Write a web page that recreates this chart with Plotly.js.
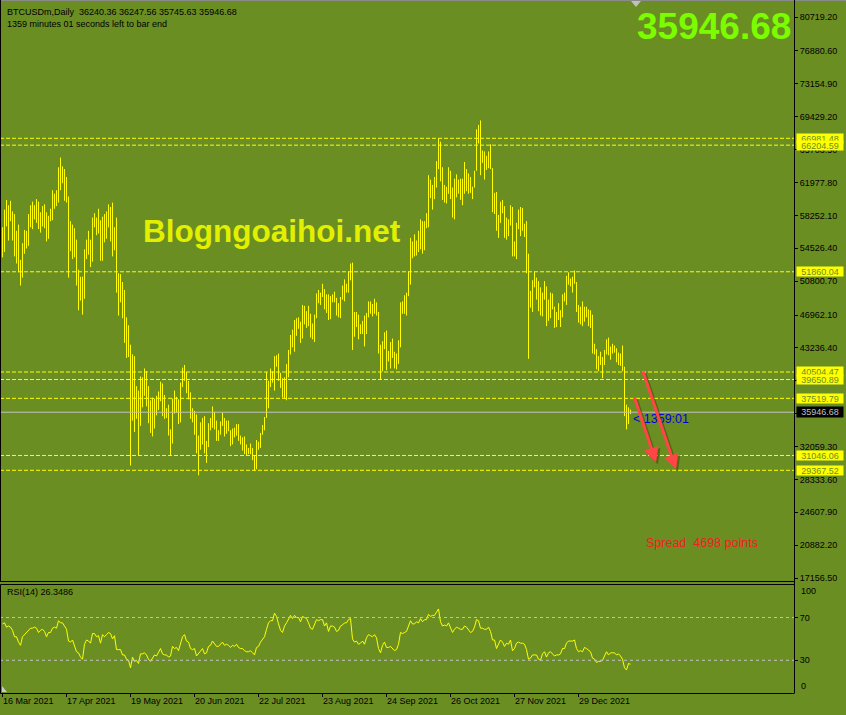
<!DOCTYPE html>
<html><head><meta charset="utf-8">
<script src="https://cdn.plot.ly/plotly-3.0.1.min.js"></script>
<style>html,body{margin:0;padding:0;background:#6B8E23;}#chart{width:846px;height:715px;}</style>
</head><body><div id="chart"></div>
<script>
// ---- DATA (prices in USD thousands, one daily bar per entry, 16 Mar 2021 .. 24 Jan 2022) ----
const dateTickIndex = [0,32,64,96,128,160,192,224,256,288];
const dateTickLabels = ['16 Mar 2021','17 Apr 2021','19 May 2021','20 Jun 2021','22 Jul 2021','23 Aug 2021','24 Sep 2021','26 Oct 2021','27 Nov 2021','29 Dec 2021'];

const openK = [55.9,
56.8,58.9,57.6,58.8,58.2,57.4,54.1,54.3,52.3,51.3,
55.0,55.8,55.8,57.6,58.7,58.9,59.1,59.0,57.1,58.2,
59.1,58.0,56.0,58.1,58.1,59.8,60.2,59.8,63.5,62.9,
63.1,61.3,60.0,56.2,55.7,56.5,53.8,51.7,51.1,50.1,
49.0,54.0,55.0,54.8,53.6,57.8,57.8,56.6,57.2,53.2,
57.5,56.4,57.4,58.8,58.2,55.9,56.7,49.7,49.8,49.7,
46.7,46.3,43.5,42.9,36.9,40.8,37.3,37.5,34.8,38.8,
38.3,39.2,38.4,35.7,34.6,35.7,37.3,36.7,37.6,39.2,
36.9,35.5,35.8,33.6,33.4,37.3,36.7,37.3,35.5,39.1,
40.5,40.2,38.3,38.1,35.8,35.5,35.6,31.7,32.5,33.7,
34.7,31.6,32.2,34.7,34.5,35.9,35.0,33.5,33.8,34.7,
35.3,33.7,34.2,33.9,32.9,33.8,33.5,34.3,33.1,32.7,
32.8,31.8,31.4,31.5,31.8,30.8,29.8,32.1,32.3,33.6,
34.3,35.4,37.3,39.4,40.0,40.0,42.2,41.5,39.9,39.2,
38.2,39.7,40.9,42.8,44.6,43.8,46.3,45.6,45.6,44.4,
47.8,47.1,47.0,45.9,44.7,44.6,46.8,49.3,48.9,49.3,
49.5,47.7,48.9,47.0,49.1,48.9,48.8,47.0,47.2,48.9,
49.3,50.0,49.9,51.8,52.7,46.9,46.1,46.4,44.8,45.2,
46.1,44.9,47.1,48.1,47.8,47.3,48.3,47.3,43.0,40.7,
43.6,44.9,42.8,42.7,43.2,42.2,41.0,41.5,43.8,48.2,
47.7,48.2,49.2,51.5,55.3,53.8,53.9,55.0,54.7,57.5,
56.0,57.4,57.4,61.7,60.9,61.6,62.0,64.3,66.0,62.2,
60.7,61.4,60.9,63.0,60.4,58.5,60.6,62.3,61.9,61.3,
61.0,63.3,62.9,61.4,61.0,61.5,63.3,67.6,67.0,64.9,
64.9,64.2,64.4,65.5,63.6,60.4,60.6,56.9,58.1,59.7,
58.7,56.3,57.6,57.2,58.9,53.6,54.8,57.3,57.8,57.0,
56.9,56.5,53.6,49.2,49.4,50.6,50.6,50.5,47.6,47.1,
49.4,50.1,46.7,48.4,48.9,47.6,46.2,46.9,46.7,46.9,
49.0,48.6,50.8,50.4,50.8,50.7,50.7,47.5,46.4,47.1,
46.3,47.7,47.3,46.4,45.9,43.5,43.1,41.6,41.8,41.9,
41.9,42.8,43.9,42.6,43.1,43.2,43.1,42.2,42.4,41.7,
40.7,36.5,35.1,36.24036];

const highK = [
56.9,58.9,60.0,59.4,59.9,58.7,58.4,56.5,57.2,53.2,
55.1,56.6,56.5,58.4,59.4,59.8,59.4,60.1,59.8,58.6,
59.3,59.5,58.6,58.2,59.0,61.1,60.7,61.1,63.7,64.8,
63.8,63.5,62.6,60.4,57.6,57.2,56.8,55.5,52.1,51.3,
51.3,54.4,55.5,56.5,55.5,58.0,58.5,58.0,59.0,57.7,
58.1,58.4,58.7,59.5,59.2,59.7,56.9,58.0,51.7,51.6,
50.7,49.8,46.7,45.8,43.6,42.5,42.3,38.9,38.4,40.0,
39.9,40.9,40.6,38.9,37.3,37.6,37.5,37.8,38.3,39.4,
39.2,37.9,36.4,36.8,34.0,37.5,38.4,37.7,37.4,39.3,
41.0,41.3,40.5,39.5,38.2,36.4,36.1,35.7,33.3,34.8,
35.3,35.5,32.7,34.7,35.3,36.6,36.0,35.0,33.9,34.9,
35.9,35.3,35.0,35.0,33.9,34.1,34.2,34.6,34.6,33.3,
33.1,33.2,32.3,31.9,32.4,31.9,31.1,32.8,32.6,33.6,
34.5,35.4,40.5,39.5,40.9,40.6,42.3,42.4,42.6,40.4,
39.8,39.9,41.4,43.0,44.7,45.3,46.4,46.6,46.7,46.2,
48.1,48.0,47.4,48.0,47.1,46.0,47.0,49.4,49.8,49.5,
50.5,49.9,49.3,49.3,49.1,49.3,49.6,48.9,48.3,49.0,
50.3,51.0,50.5,51.9,52.8,52.9,47.3,47.3,47.0,45.9,
46.3,46.9,47.2,48.5,48.5,48.2,48.8,48.4,47.3,43.6,
44.0,45.0,45.2,42.9,43.9,44.3,42.8,42.6,44.1,48.4,
48.5,49.2,49.5,51.9,55.7,55.3,56.1,55.4,56.5,57.8,
57.6,57.6,58.5,62.8,62.3,61.7,62.6,64.4,66.98148,66.6,
63.7,61.7,61.5,63.7,63.3,61.4,62.4,62.9,62.3,62.4,
62.4,64.3,63.5,63.0,62.6,61.5,63.3,68.0,68.5,69.0,
65.6,65.5,65.0,65.5,66.3,63.6,60.8,60.9,58.3,59.8,
60.0,59.3,58.0,57.8,59.4,59.2,55.3,57.4,58.9,59.2,
59.1,57.3,57.6,53.9,49.7,50.9,51.9,51.2,50.8,50.1,
49.5,50.8,50.2,48.7,49.5,49.4,47.9,47.3,48.3,47.5,
49.3,49.5,51.4,51.8,51.1,51.3,52.0,50.7,48.1,47.9,
48.5,47.9,47.9,47.6,47.5,47.0,43.7,43.1,42.3,42.8,
42.2,43.0,44.2,44.4,43.4,43.7,43.5,43.2,42.7,42.6,
43.5,41.1,36.8,36.5,36.24756];

const lowK = [
53.5,54.1,57.0,55.4,57.6,55.4,53.6,52.8,51.8,50.3,
51.2,53.9,54.5,54.8,56.9,56.7,57.8,57.4,56.7,56.3,
57.0,56.8,55.3,55.6,57.6,57.7,59.0,59.3,59.7,61.1,
61.9,59.9,59.7,51.2,54.2,53.3,53.5,50.3,47.5,48.6,
47.0,48.8,53.3,53.8,52.4,53.0,56.9,56.0,56.2,53.1,
53.1,55.2,55.6,56.9,55.3,53.6,54.3,49.5,46.9,48.4,
46.6,43.8,42.1,42.2,29.9,35.0,33.7,35.2,31.1,34.4,
36.5,37.8,36.6,34.7,33.6,33.2,34.1,35.6,36.2,37.2,
35.5,35.2,35.3,33.3,31.0,32.4,35.8,35.9,34.6,34.8,
38.8,39.5,38.1,37.4,35.2,34.8,33.4,31.3,28.8,31.7,
32.3,31.3,30.2,32.0,33.9,34.2,34.0,32.7,32.7,33.4,
34.4,33.2,33.5,33.8,32.1,32.3,33.1,33.3,32.7,32.3,
31.6,31.2,31.1,31.2,31.2,30.5,29.3,29.5,31.7,31.9,
33.4,33.9,35.3,36.4,38.8,39.3,38.4,41.1,39.5,38.7,
37.6,37.5,37.3,39.9,42.5,43.3,42.8,44.6,45.4,43.8,
44.3,45.9,45.5,45.7,44.4,44.2,43.9,46.6,48.3,48.1,
49.0,47.6,47.2,46.4,46.5,48.4,48.4,46.9,46.7,46.6,
48.7,48.5,49.5,49.5,50.9,43.0,44.5,45.6,44.2,44.8,
44.8,43.4,44.8,46.7,47.1,46.8,47.1,46.9,42.6,39.6,
40.6,43.1,40.7,41.7,40.9,42.1,40.9,40.8,41.4,43.3,
47.1,47.1,46.9,49.1,50.4,53.4,53.6,53.7,54.1,54.4,
53.9,54.3,56.8,56.9,60.2,58.9,60.1,61.4,63.5,62.1,
60.0,59.7,59.6,60.7,60.1,58.0,57.8,60.3,60.7,60.0,
59.4,60.7,61.0,60.7,60.8,60.1,61.4,63.3,66.4,62.8,
64.2,62.3,63.4,63.6,63.5,58.6,58.4,56.5,55.7,57.4,
58.5,55.7,55.5,55.9,57.1,53.6,53.6,53.3,56.7,55.9,
56.5,55.8,51.7,42.0,47.8,47.3,50.1,48.7,47.4,46.9,
46.8,48.7,45.7,46.3,46.6,47.6,45.5,45.6,46.4,45.6,
46.7,48.5,48.1,50.4,50.2,49.5,50.5,47.3,46.1,45.9,
45.7,46.2,46.7,45.7,45.5,42.6,42.5,40.8,40.6,41.3,
39.8,41.3,42.5,42.4,41.9,42.6,42.7,41.6,41.3,41.2,
40.6,35.5,34.0,34.6,35.74563];

const closeK = [
56.8,58.9,57.6,58.8,58.2,57.4,54.1,54.3,52.3,51.3,
55.0,55.8,55.8,57.6,58.7,58.9,59.1,59.0,57.1,58.2,
59.1,58.0,56.0,58.1,58.1,59.8,60.2,59.8,63.5,62.9,
63.1,61.3,60.0,56.2,55.7,56.5,53.8,51.7,51.1,50.1,
49.0,54.0,55.0,54.8,53.6,57.8,57.8,56.6,57.2,53.2,
57.5,56.4,57.4,58.8,58.2,55.9,56.7,49.7,49.8,49.7,
46.7,46.3,43.5,42.9,36.9,40.8,37.3,37.5,34.8,38.8,
38.3,39.2,38.4,35.7,34.6,35.7,37.3,36.7,37.6,39.2,
36.9,35.5,35.8,33.6,33.4,37.3,36.7,37.3,35.5,39.1,
40.5,40.2,38.3,38.1,35.8,35.5,35.6,31.7,32.5,33.7,
34.7,31.6,32.2,34.7,34.5,35.9,35.0,33.5,33.8,34.7,
35.3,33.7,34.2,33.9,32.9,33.8,33.5,34.3,33.1,32.7,
32.8,31.8,31.4,31.5,31.8,30.8,29.8,32.1,32.3,33.6,
34.3,35.4,37.3,39.4,40.0,40.0,42.2,41.5,39.9,39.2,
38.2,39.7,40.9,42.8,44.6,43.8,46.3,45.6,45.6,44.4,
47.8,47.1,47.0,45.9,44.7,44.6,46.8,49.3,48.9,49.3,
49.5,47.7,48.9,47.0,49.1,48.9,48.8,47.0,47.2,48.9,
49.3,50.0,49.9,51.8,52.7,46.9,46.1,46.4,44.8,45.2,
46.1,44.9,47.1,48.1,47.8,47.3,48.3,47.3,43.0,40.7,
43.6,44.9,42.8,42.7,43.2,42.2,41.0,41.5,43.8,48.2,
47.7,48.2,49.2,51.5,55.3,53.8,53.9,55.0,54.7,57.5,
56.0,57.4,57.4,61.7,60.9,61.6,62.0,64.3,66.0,62.2,
60.7,61.4,60.9,63.0,60.4,58.5,60.6,62.3,61.9,61.3,
61.0,63.3,62.9,61.4,61.0,61.5,63.3,67.6,67.0,64.9,
64.9,64.2,64.4,65.5,63.6,60.4,60.6,56.9,58.1,59.7,
58.7,56.3,57.6,57.2,58.9,53.6,54.8,57.3,57.8,57.0,
56.9,56.5,53.6,49.2,49.4,50.6,50.6,50.5,47.6,47.1,
49.4,50.1,46.7,48.4,48.9,47.6,46.2,46.9,46.7,46.9,
49.0,48.6,50.8,50.4,50.8,50.7,50.7,47.5,46.4,47.1,
46.3,47.7,47.3,46.4,45.9,43.5,43.1,41.6,41.8,41.9,
41.9,42.8,43.9,42.6,43.1,43.2,43.1,42.2,42.4,41.7,
40.7,36.5,35.1,36.24036,35.94668];

const rsi14 = [
64,65,61,62,61,58,52,52,47,44,
52,54,55,58,60,60,61,60,56,58,
59,57,52,56,56,60,61,60,67,65,
65,62,59,48,47,49,44,38,37,33,
31,45,49,48,46,55,55,52,53,46,
54,52,54,56,55,50,53,40,40,40,
35,35,31,30,23,33,29,30,27,36,
36,37,35,31,29,32,35,34,37,41,
36,35,35,33,34,43,41,42,39,47,
52,54,48,47,41,40,41,34,36,39,
41,36,37,43,44,48,46,43,43,45,
47,44,45,44,42,44,43,45,42,41,
41,39,38,38,39,37,35,42,43,47,
49,52,59,65,67,67,74,71,64,58,
56,62,65,69,72,69,72,70,70,66,
71,70,69,65,60,59,64,68,67,68,
68,62,65,57,62,62,61,57,58,62,
63,65,65,68,69,50,47,48,45,46,
48,45,51,54,53,52,54,51,41,37,
44,47,42,42,43,41,39,40,45,56,
55,56,57,62,67,64,64,66,65,69,
66,68,68,73,71,72,72,75,78,66,
62,63,62,65,60,56,59,61,60,59,
59,62,61,58,56,57,61,68,67,60,
60,59,59,61,57,49,49,41,45,49,
47,43,46,45,49,39,41,46,47,46,
46,45,40,31,32,35,35,35,31,30,
36,38,33,37,38,36,34,35,35,36,
41,41,46,48,48,48,49,41,38,39,
38,42,41,39,38,32,31,28,29,29,
30,34,38,35,37,37,37,35,36,34,
31,23,21,27,26.35];

const priceTicks = [80719.20,76880.60,73154.90,69429.20,65703.50,61977.80,58252.10,54526.40,50800.70,46962.10,43236.40,39510.70,35785.00,32059.30,28333.60,24607.90,20882.20,17156.50];
// labels of 39510.70 and 35785.00 are fully hidden behind the level / bid boxes in the reference
const priceTickText = ['80719.20','76880.60','73154.90','69429.20','65703.50','61977.80','58252.10','54526.40','50800.70','46962.10','43236.40','','','32059.30','28333.60','24607.90','20882.20','17156.50'];
const levelPrices = [66981.48,66204.59,51860.04,40504.47,39650.89,37519.79,31046.06,29367.52];
const bidPrice = 35946.68;
const rsiLevels = [70,30];
const rsiTickVals = [70,30];
const rsiTickText = ['70','30'];

// ---- GEOMETRY HELPERS ----
const W = 846, H = 715, AXIS_X = 794;
const px = x => x / W;
const py = y => 1 - y / H;
const FONT = '"Liberation Sans", Arial, sans-serif';
const OLIVE = '#6B8E23';

const barIndex = closeK.map((_, i) => i);
const toUSD = arr => arr.map(v => Math.round(v * 100000) / 100);

const traces = [
  {
    type: 'ohlc', x: barIndex,
    open: toUSD(openK), high: toUSD(highK), low: toUSD(lowK), close: toUSD(closeK),
    increasing: {line: {color: '#FFFF00', width: 1}},
    decreasing: {line: {color: '#FFFF00', width: 1}},
    tickwidth: 0, xaxis: 'x', yaxis: 'y', hoverinfo: 'skip'
  },
  {
    type: 'scatter', mode: 'lines', x: barIndex, y: rsi14,
    line: {color: '#FFFF00', width: 1}, xaxis: 'x', yaxis: 'y2', hoverinfo: 'skip'
  }
];

const shapes = [];
levelPrices.forEach(p => shapes.push({type: 'line', xref: 'paper', yref: 'y', x0: 0, x1: px(AXIS_X), y0: p, y1: p,
  line: {color: '#FFFF00', width: 1, dash: '4px,2px'}}));
shapes.push({type: 'line', xref: 'paper', yref: 'y', x0: 0, x1: px(AXIS_X), y0: bidPrice, y1: bidPrice,
  line: {color: '#C0C0C0', width: 1}});
rsiLevels.forEach(v => shapes.push({type: 'line', xref: 'paper', yref: 'y2', x0: 0, x1: px(AXIS_X), y0: v, y1: v,
  line: {color: '#C0C0C0', width: 1, dash: '3px,3px'}}));
// frames
const frameLine = (x0, y0, x1, y1, c) => ({type: 'line', xref: 'paper', yref: 'paper', x0: px(x0), y0: py(y0), x1: px(x1), y1: py(y1), line: {color: c || '#000', width: 1}});
shapes.push(frameLine(0, 0.5, W, 0.5, '#8a8a8a'));
shapes.push(frameLine(0.5, 0, 0.5, 581));
shapes.push(frameLine(0, 581.5, AXIS_X, 581.5));
shapes.push(frameLine(0.5, 584.5, AXIS_X, 584.5));
shapes.push(frameLine(0.5, 584.5, 0.5, 693.5));
shapes.push(frameLine(0.5, 693.5, AXIS_X, 693.5));
shapes.push(frameLine(AXIS_X + 0.5, 0, AXIS_X + 0.5, 693.5));
// chart-shift marker and small corner marker
shapes.push({type: 'path', xref: 'paper', yref: 'paper',
  path: `M ${px(631)},${py(1)} L ${px(641)},${py(1)} L ${px(636)},${py(7)} Z`,
  fillcolor: '#C0C0C0', line: {width: 0}});
shapes.push({type: 'path', xref: 'paper', yref: 'paper',
  path: `M ${px(2)},${py(692)} L ${px(7)},${py(692)} L ${px(2)},${py(686)} Z`,
  fillcolor: '#C8C8C8', line: {width: 0}});

const annotations = [];
const txt = (x, y, text, size, color, anchor, extra) => Object.assign({
  xref: 'paper', yref: 'paper', x: px(x), y: py(y), xanchor: anchor || 'left', yanchor: 'middle',
  text: text, showarrow: false, font: {family: FONT, size: size, color: color}
}, extra || {});

annotations.push(txt(5, 12, 'BTCUSDm,Daily\u00A0\u00A036240.36 36247.56 35745.63 35946.68', 9, '#000'));
annotations.push(txt(5, 24, '1359 minutes 01 seconds left to bar end', 9, '#000'));
annotations.push(txt(793, 26, '<b>35946.68</b>', 37, '#7CFC00', 'right'));
annotations.push(txt(141, 231, '<b>Blogngoaihoi.net</b>', 31.5, '#E2F000'));
annotations.push(txt(631, 419, '< 1359:01', 12.5, '#0000E0'));
annotations.push(txt(644, 543, 'Spread\u00A0\u00A04698 points', 12.5, '#F02020'));
annotations.push(txt(5, 592, 'RSI(14) 26.3486', 9, '#000'));
annotations.push(txt(799, 591, '100', 9, '#000'));
annotations.push(txt(799, 686, '0', 9, '#000'));

levelPrices.forEach(p => annotations.push({xref: 'paper', yref: 'y', x: px(796), y: p, xanchor: 'left', yanchor: 'middle',
  text: p.toFixed(2), showarrow: false, bgcolor: '#FFFF00', borderpad: 0, width: 46, height: 9,
  font: {family: FONT, size: 9, color: OLIVE}}));
annotations.push({xref: 'paper', yref: 'y', x: px(796), y: bidPrice, xanchor: 'left', yanchor: 'middle',
  text: bidPrice.toFixed(2), showarrow: false, bgcolor: '#000000', borderpad: 0, width: 46, height: 10,
  font: {family: FONT, size: 9, color: '#C0C0C0'}});

// red drawn arrows (with soft shadow)
const arrow = (hx, hy, tx, ty, color, w) => ({xref: 'paper', yref: 'paper', x: px(hx), y: py(hy), ax: tx - hx, ay: ty - hy,
  axref: 'pixel', ayref: 'pixel', text: '', showarrow: true, arrowhead: 2, arrowsize: 1, arrowwidth: w, arrowcolor: color, standoff: 0});
annotations.push(arrow(678, 471, 644.5, 372, 'rgba(50,60,0,0.45)', 3));
annotations.push(arrow(658, 464.5, 636, 398, 'rgba(50,60,0,0.45)', 3));
annotations.push(arrow(676, 469.5, 642.5, 370, '#FF4545', 3));
annotations.push(arrow(656, 462.5, 634, 396, '#FF4545', 3));

const layout = {
  width: W, height: H, margin: {l: 0, r: 0, t: 0, b: 0, pad: 0},
  paper_bgcolor: OLIVE, plot_bgcolor: OLIVE, showlegend: false, hovermode: false,
  font: {family: FONT, size: 9, color: '#000'},
  xaxis: {domain: [0, px(AXIS_X)], range: [-1.25, (AXIS_X - 2.5) / 2], anchor: 'y2',
    tickmode: 'array', tickvals: dateTickIndex, ticktext: dateTickLabels,
    ticks: 'outside', ticklen: 4, tickcolor: '#000', ticklabelposition: 'outside right',
    tickfont: {family: FONT, size: 9, color: '#000'},
    showgrid: false, zeroline: false, showline: false, rangeslider: {visible: false}, fixedrange: true, automargin: false},
  yaxis: {domain: [py(581), py(2)], range: [16825.7, 82423.5], side: 'right', anchor: 'x',
    tickmode: 'array', tickvals: priceTicks, ticktext: priceTickText,
    ticks: 'outside', ticklen: 3, tickcolor: '#000', tickfont: {family: FONT, size: 9, color: '#000'},
    showgrid: false, zeroline: false, showline: false, fixedrange: true, automargin: false},
  yaxis2: {domain: [py(692.4), py(585.4)], range: [0, 100], side: 'right', anchor: 'x',
    tickmode: 'array', tickvals: rsiTickVals, ticktext: rsiTickText,
    ticks: 'outside', ticklen: 3, tickcolor: '#000', tickfont: {family: FONT, size: 9, color: '#000'},
    showgrid: false, zeroline: false, showline: false, fixedrange: true, automargin: false},
  shapes: shapes, annotations: annotations
};

Plotly.newPlot('chart', traces, layout, {staticPlot: true, displayModeBar: false});
</script>
</body></html>
